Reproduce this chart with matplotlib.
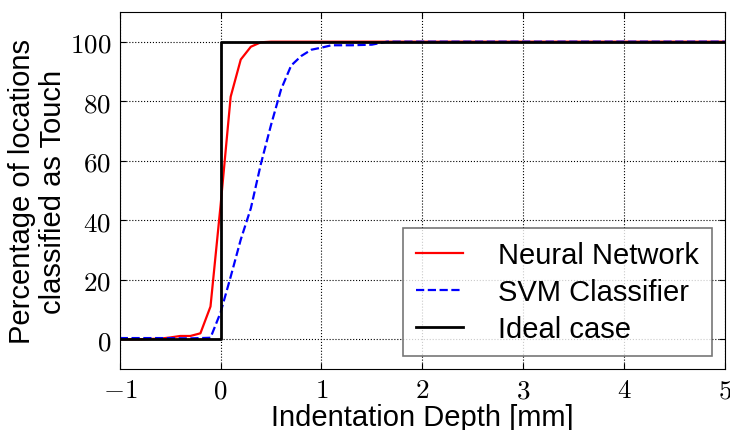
import matplotlib
matplotlib.use('Agg')
import matplotlib.pyplot as plt
from matplotlib.ticker import FuncFormatter

plt.rcParams['mathtext.fontset'] = 'cm'

# Данные
nn_x = [-1.0, -0.8, -0.6, -0.5, -0.4, -0.3, -0.2, -0.1, 0.0, 0.1, 0.2, 0.3, 0.4, 0.5, 0.6, 1.0, 2.0, 3.0, 4.0, 5.0]
nn_y = [0.0, 0.0, 0.2, 0.6, 1.1, 1.1, 2.0, 11.0, 45.0, 81.5, 94.0, 98.3, 99.8, 100.0, 100.0, 100.0, 100.0, 100.0, 100.0, 100.0]

svm_x = [-1.0, -0.6, -0.3, -0.1, 0.0, 0.1, 0.2, 0.3, 0.4, 0.5, 0.6, 0.7, 0.8, 0.9, 1.0, 1.1, 1.3, 1.5, 1.65, 2.0, 3.0, 4.0, 5.0]
svm_y = [0.4, 0.4, 0.3, 0.5, 9.0, 21.0, 33.5, 44.0, 59.0, 72.0, 84.0, 92.0, 95.2, 97.3, 98.0, 98.8, 98.8, 99.0, 100.0, 100.0, 100.0, 100.0, 100.0]

ideal_x = [-1.0, 0.0, 0.0, 5.0]
ideal_y = [0.0, 0.0, 100.0, 100.0]

fig = plt.figure(figsize=(7.3, 4.31), dpi=100)
ax = fig.add_axes([0.164, 0.1415, 0.829, 0.8285])

ax.plot(nn_x, nn_y, color='red', lw=1.6, label='Neural Network')
ax.plot(svm_x, svm_y, color='blue', lw=1.6, ls='--', label='SVM Classifier')
ax.plot(ideal_x, ideal_y, color='black', lw=2, label='Ideal case')

ax.set_xlim(-1, 5)
ax.set_ylim(-10, 110)
ax.set_xticks(range(-1, 6))
ax.set_yticks(range(0, 101, 20))
fmt = FuncFormatter(lambda v, p: r'$%d$' % v)
ax.xaxis.set_major_formatter(fmt)
ax.yaxis.set_major_formatter(fmt)
ax.tick_params(direction='in', top=True, right=True, labelsize=19.5, length=4, pad=6)
ax.grid(True, color='black', ls=':', lw=0.8)

sans = ['Liberation Sans', 'DejaVu Sans']
ax.set_xlabel('Indentation Depth [mm]', fontsize=21, family=sans, labelpad=0)
ax.set_ylabel('Percentage of locations\nclassified as Touch', fontsize=21, family=sans,
              linespacing=1.15, labelpad=2)

leg = ax.legend(loc='lower right', prop={'family': sans, 'size': 21}, fancybox=False,
                handlelength=1.6, borderpad=0.45, labelspacing=0.3, handletextpad=1.2,
                borderaxespad=0.45)
leg.get_frame().set_edgecolor('#555555')
leg.get_frame().set_linewidth(1.2)

fig.savefig('out.png', dpi=100)
